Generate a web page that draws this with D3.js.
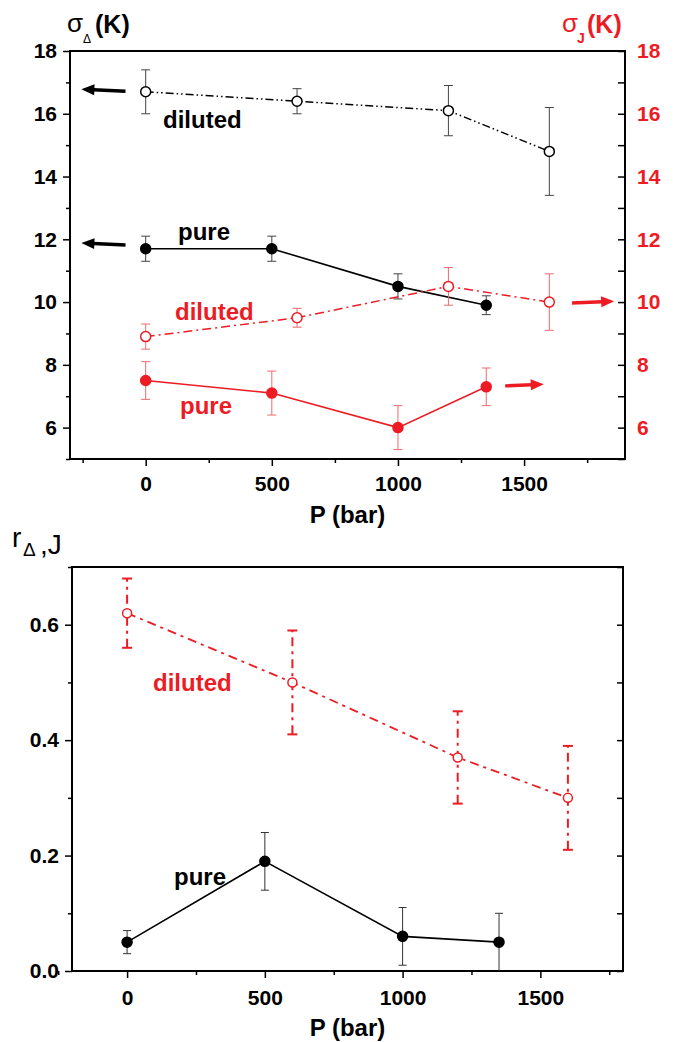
<!DOCTYPE html>
<html>
<head>
<meta charset="utf-8">
<script src="https://cdn.jsdelivr.net/npm/d3@7"></script>
<style>
  body { margin: 0; background: #fff; }
  svg { display: block; }
</style>
</head>
<body>
<svg id="chart" width="675" height="1042"></svg>
<script>
// pressures (bar)
const pPure = [0, 500, 1000, 1350];
const pDil = [0, 600, 1200, 1600];

// top panel: sigma_Delta (left axis) and sigma_J (right axis), K
const sigDeltaDil = [16.7, 16.4, 16.1, 14.8];
const sigDeltaDilErr = [0.7, 0.4, 0.8, 1.4];
const sigDeltaPure = [11.7, 11.7, 10.5, 9.9];
const sigDeltaPureErr = [0.4, 0.4, 0.4, 0.3];
const sigJDil = [8.9, 9.5, 10.5, 10.0];
const sigJDilErr = [0.4, 0.3, 0.6, 0.9];
const sigJPure = [7.5, 7.1, 6.0, 7.3];
const sigJPureErr = [0.6, 0.7, 0.7, 0.6];

// bottom panel: r_Delta,J
const rDil = [0.62, 0.50, 0.37, 0.30];
const rDilErr = [0.06, 0.09, 0.08, 0.09];
const rPure = [0.05, 0.19, 0.06, 0.05];
const rPureErr = [0.02, 0.05, 0.05, 0.05];

const xTicksMajor = [0, 500, 1000, 1500];
const xTicksMinor = [-250, 250, 750, 1250, 1750];
const sigTicksMajor = [6, 8, 10, 12, 14, 16, 18];
const sigTicksMinor = [5, 7, 9, 11, 13, 15, 17];
const rTicksMajor = [0, 0.2, 0.4, 0.6];
const rTicksMinor = [0.1, 0.3, 0.5, 0.7];

const RED = '#ed1c24';
const FONT = '"Liberation Sans", Arial, sans-serif';

const svg = d3.select('#chart');

function axisStyle(g, color) {
  g.attr('font-family', FONT).attr('font-size', 21).attr('font-weight', 'bold');
  g.select('.domain').remove();
  g.selectAll('line').attr('stroke', '#000').attr('stroke-width', 1.5);
  g.selectAll('text').attr('fill', color || '#000');
}

function frame(x, y) {
  const [x0, x1] = x.range();
  const [y0, y1] = y.range();
  svg.append('rect')
    .attr('x', x0).attr('y', y1)
    .attr('width', x1 - x0).attr('height', y0 - y1)
    .attr('fill', 'none').attr('stroke', '#000').attr('stroke-width', 2);
}

function series(x, y, xs, ys, errs, opt) {
  const pts = xs.map((d, i) => ({ x: d, y: ys[i], e: errs[i] }));
  const g = svg.append('g');
  const cap = opt.cap || 4.5;
  // error bars
  const eb = g.selectAll('.eb').data(pts).enter().append('g')
    .attr('stroke', opt.errColor).attr('stroke-width', opt.errWidth || 1)
    .attr('fill', 'none');
  eb.append('line')
    .attr('x1', d => x(d.x)).attr('x2', d => x(d.x))
    .attr('y1', d => y(Math.max(d.y - d.e, y.domain()[0]))).attr('y2', d => y(d.y + d.e))
    .attr('stroke-dasharray', opt.errDash || null);
  eb.append('line')
    .attr('x1', d => x(d.x) - cap).attr('x2', d => x(d.x) + cap)
    .attr('y1', d => y(d.y + d.e)).attr('y2', d => y(d.y + d.e));
  eb.filter(d => d.y - d.e > y.domain()[0]).append('line')
    .attr('x1', d => x(d.x) - cap).attr('x2', d => x(d.x) + cap)
    .attr('y1', d => y(d.y - d.e)).attr('y2', d => y(d.y - d.e));
  // line
  g.append('path')
    .datum(pts)
    .attr('d', d3.line().x(d => x(d.x)).y(d => y(d.y)))
    .attr('fill', 'none')
    .attr('stroke', opt.color)
    .attr('stroke-width', opt.lineWidth || 1.6)
    .attr('stroke-dasharray', opt.dash || null);
  // markers
  g.selectAll('circle').data(pts).enter().append('circle')
    .attr('cx', d => x(d.x)).attr('cy', d => y(d.y))
    .attr('r', opt.r || 5)
    .attr('fill', opt.open ? '#fff' : opt.color)
    .attr('stroke', opt.color)
    .attr('stroke-width', 1.5);
}

function label(x, y, text, color, size) {
  svg.append('text')
    .attr('x', x).attr('y', y)
    .attr('font-family', FONT).attr('font-size', size || 24).attr('font-weight', 'bold')
    .attr('fill', color).text(text);
}

function arrow(x1, y1, x2, y2, color) {
  const ang = Math.atan2(y2 - y1, x2 - x1);
  const L = 13, W = 5.5;
  const bx = x2 - L * Math.cos(ang), by = y2 - L * Math.sin(ang);
  svg.append('line')
    .attr('x1', x1).attr('y1', y1).attr('x2', bx + Math.cos(ang)).attr('y2', by + Math.sin(ang))
    .attr('stroke', color).attr('stroke-width', 3.5);
  const px = -Math.sin(ang) * W, py = Math.cos(ang) * W;
  svg.append('path')
    .attr('d', `M${x2},${y2}L${bx + px},${by + py}L${bx - px},${by - py}Z`)
    .attr('fill', color);
}

const fmtInt = d3.format('d');

// ---------- top panel ----------
const xT = d3.scaleLinear().domain([-300, 1900]).range([70, 625]);
const yT = d3.scaleLinear().domain([5, 18]).range([459, 51]);

svg.append('g').attr('transform', `translate(0,${yT(5)})`)
  .call(d3.axisBottom(xT).tickValues(xTicksMajor).tickSize(7).tickPadding(10).tickFormat(fmtInt))
  .call(axisStyle);
svg.append('g').attr('transform', `translate(0,${yT(5)})`)
  .call(d3.axisBottom(xT).tickValues(xTicksMinor).tickSize(4).tickFormat(''))
  .call(axisStyle);
svg.append('g').attr('transform', `translate(${xT(-300)},0)`)
  .call(d3.axisLeft(yT).tickValues(sigTicksMajor).tickSize(7).tickPadding(6))
  .call(axisStyle);
svg.append('g').attr('transform', `translate(${xT(-300)},0)`)
  .call(d3.axisLeft(yT).tickValues(sigTicksMinor).tickSize(4).tickFormat(''))
  .call(axisStyle);
svg.append('g').attr('transform', `translate(${xT(1900)},0)`)
  .call(d3.axisRight(yT).tickValues(sigTicksMajor).tickSizeInner(-7).tickSizeOuter(0).tickPadding(12))
  .call(g => axisStyle(g, RED));
svg.append('g').attr('transform', `translate(${xT(1900)},0)`)
  .call(d3.axisRight(yT).tickValues(sigTicksMinor).tickSizeInner(-7).tickSizeOuter(0).tickFormat(''))
  .call(axisStyle);
frame(xT, yT);

series(xT, yT, pDil, sigDeltaDil, sigDeltaDilErr,
  { color: '#000', errColor: '#444', open: true, dash: '8,3,1.5,3,1.5,3', lineWidth: 1.5 });
series(xT, yT, pPure, sigDeltaPure, sigDeltaPureErr,
  { color: '#000', errColor: '#444', open: false });
series(xT, yT, pDil, sigJDil, sigJDilErr,
  { color: RED, errColor: '#f06a6f', open: true, dash: '9,4,2,4', lineWidth: 1.5 });
series(xT, yT, pPure, sigJPure, sigJPureErr,
  { color: RED, errColor: '#f06a6f', open: false });

arrow(xT(-80), yT(16.72), xT(-255), yT(16.78), '#000');
arrow(xT(-80), yT(11.82), xT(-255), yT(11.88), '#000');
arrow(xT(1690), yT(9.97), xT(1857), yT(10.03), RED);
arrow(xT(1425), yT(7.33), xT(1578), yT(7.38), RED);

label(163, 128, 'diluted', '#000');
label(178, 240, 'pure', '#000');
label(175, 320, 'diluted', RED);
label(180, 414, 'pure', RED);

// axis titles
const t1 = svg.append('text').attr('font-family', FONT).attr('fill', '#000');
t1.append('tspan').attr('x', 67).attr('y', 32).attr('font-size', 26).text('σ');
t1.append('tspan').attr('x', 83).attr('y', 43).attr('font-size', 12).text('Δ');
t1.append('tspan').attr('x', 95).attr('y', 33).attr('font-size', 25).attr('font-weight', 'bold').text('(K)');

const t2 = svg.append('text').attr('font-family', FONT).attr('fill', RED);
t2.append('tspan').attr('x', 562).attr('y', 32).attr('font-size', 26).text('σ');
t2.append('tspan').attr('x', 577).attr('y', 43).attr('font-size', 14).attr('font-weight', 'bold').text('J');
t2.append('tspan').attr('x', 587).attr('y', 33).attr('font-size', 25).attr('font-weight', 'bold').text('(K)');

svg.append('text').attr('x', (xT(-300) + xT(1900)) / 2).attr('y', 523)
  .attr('text-anchor', 'middle').attr('font-family', FONT)
  .attr('font-size', 24).attr('font-weight', 'bold').text('P (bar)');

// ---------- bottom panel ----------
const xB = d3.scaleLinear().domain([-200, 1800]).range([72, 623]);
const yB = d3.scaleLinear().domain([0, 0.7]).range([971, 567]);

svg.append('g').attr('transform', `translate(0,${yB(0)})`)
  .call(d3.axisBottom(xB).tickValues(xTicksMajor).tickSize(7).tickPadding(12).tickFormat(fmtInt))
  .call(axisStyle);
svg.append('g').attr('transform', `translate(0,${yB(0)})`)
  .call(d3.axisBottom(xB).tickValues(xTicksMinor).tickSize(4).tickFormat(''))
  .call(axisStyle);
svg.append('g').attr('transform', `translate(${xB(-200)},0)`)
  .call(d3.axisLeft(yB).tickValues(rTicksMajor).tickSize(7).tickPadding(6).tickFormat(d3.format('.1f')))
  .call(axisStyle);
svg.append('g').attr('transform', `translate(${xB(-200)},0)`)
  .call(d3.axisLeft(yB).tickValues(rTicksMinor).tickSize(4).tickFormat(''))
  .call(axisStyle);
svg.append('g').attr('transform', `translate(${xB(1800)},0)`)
  .call(d3.axisRight(yB).tickValues(rTicksMajor.concat(rTicksMinor)).tickSizeInner(-6).tickSizeOuter(0).tickFormat(''))
  .call(axisStyle);
frame(xB, yB);

series(xB, yB, pDil, rDil, rDilErr,
  { color: RED, errColor: RED, open: true, dash: '9,5,3,5', lineWidth: 1.8,
    errWidth: 2, errDash: '9,5,3,5', cap: 5, r: 4.5 });
series(xB, yB, pPure, rPure, rPureErr,
  { color: '#000', errColor: '#333', open: false, cap: 4 });

label(153, 691, 'diluted', RED);
label(174, 885, 'pure', '#000');

const t3 = svg.append('text').attr('font-family', FONT).attr('fill', '#000');
t3.append('tspan').attr('x', 12).attr('y', 547).attr('font-size', 28).text('r');
t3.append('tspan').attr('x', 23).attr('y', 556).attr('font-size', 19).text('Δ');
t3.append('tspan').attr('x', 40).attr('y', 554).attr('font-size', 28).text(',J');

svg.append('text').attr('x', (xB(-200) + xB(1800)) / 2).attr('y', 1036)
  .attr('text-anchor', 'middle').attr('font-family', FONT)
  .attr('font-size', 24).attr('font-weight', 'bold').text('P (bar)');
</script>
</body>
</html>
